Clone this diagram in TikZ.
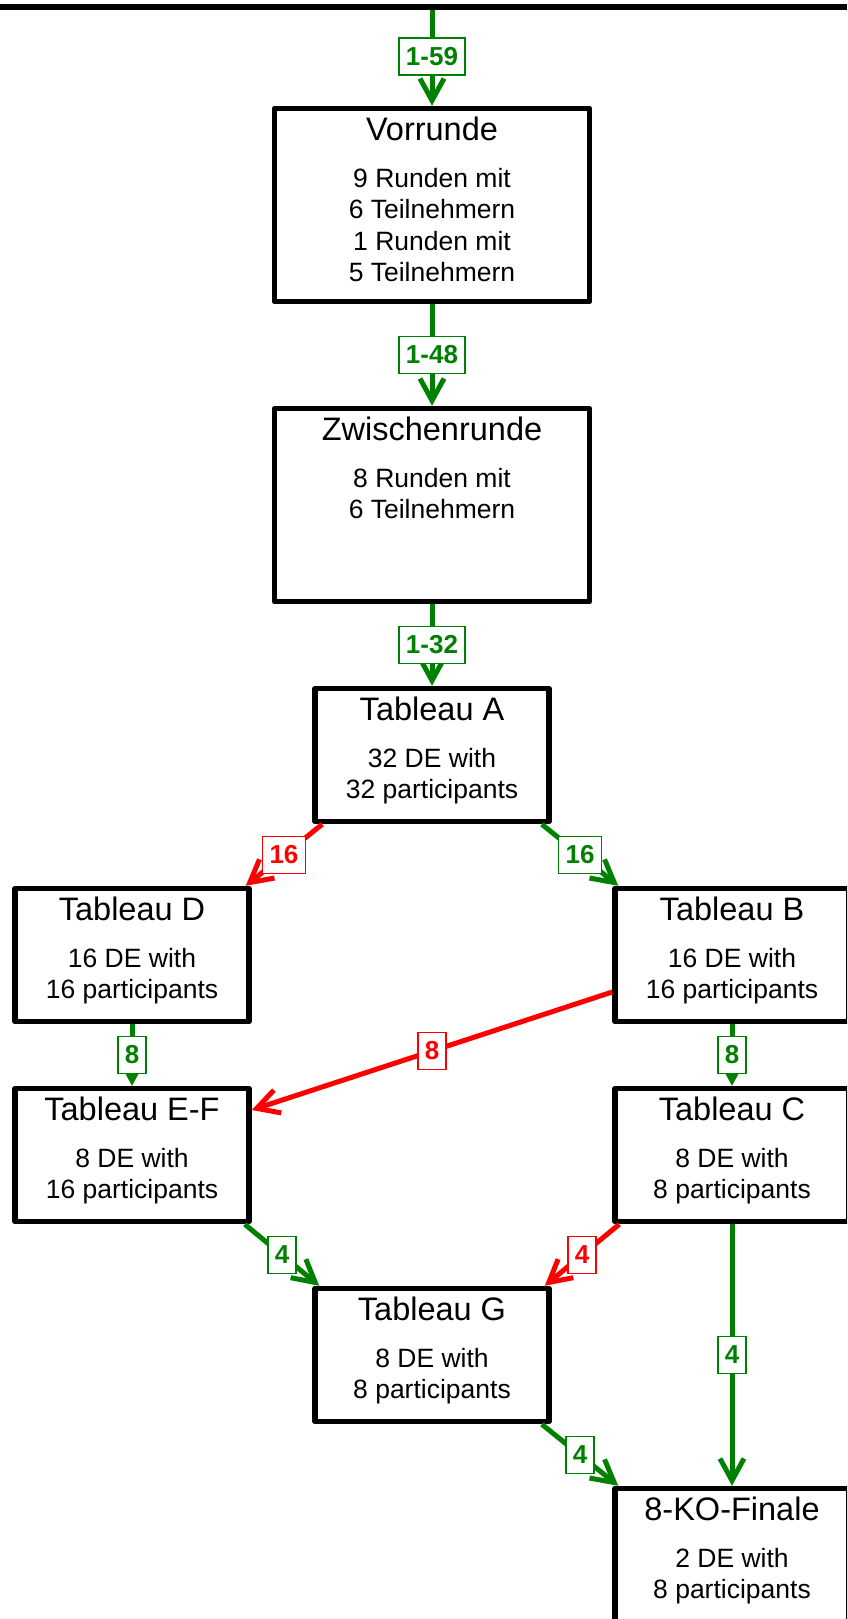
\documentclass[tikz,border=0pt]{standalone}
\usepackage{fontspec}
\setmainfont{Liberation Sans}
\usepackage{tikz}
\usetikzlibrary{arrows.meta}
\definecolor{flowgreen}{HTML}{008000}
\definecolor{flowred}{HTML}{FF0000}
\newcommand{\stagetitle}[1]{{\fontsize{32.5}{36}\selectfont #1}}

\begin{document}
\begin{tikzpicture}[x=1pt,y=-1pt,
  stage/.style={draw,line width=5.5pt,line join=round,inner sep=0pt,minimum width=234pt,minimum height=133pt},
  stagetext/.style={anchor=north,align=center,inner xsep=0pt,inner ysep=10.5pt,font=\fontsize{26.5}{31.5}\selectfont},
  flow/.style={line width=5pt,-{Straight Barb[length=22pt,width=24pt]}},
  cnt/.style={fill=white,draw,line width=1.5pt,inner xsep=7pt,inner ysep=0pt,minimum height=37pt,font=\fontsize{26}{30}\selectfont\bfseries},
  win/.style={flow,flowgreen,nodes={cnt,text=flowgreen}},
  loss/.style={flow,flowred,nodes={cnt,text=flowred}}]
  \clip (0,0) rectangle (847,1619);

  % Rounds
  \node[stage,minimum width=315pt,minimum height=193pt] (V) at (432,205) {};
  \node[stagetext] at (V.north) {\stagetitle{Vorrunde}\\[15.5pt]9 Runden mit\\6 Teilnehmern\\1 Runden mit\\5 Teilnehmern};
  \node[stage,minimum width=315pt,minimum height=193pt] (Z) at (432,505) {};
  \node[stagetext] at (Z.north) {\stagetitle{Zwischenrunde}\\[15.5pt]8 Runden mit\\6 Teilnehmern};

  % Tableaus
  \foreach \nm/\px/\py/\ttl/\la/\lb in {A/432/755/Tableau A/32 DE with/32 participants,
      D/132/955/Tableau D/16 DE with/16 participants, B/732/955/Tableau B/16 DE with/16 participants,
      EF/132/1155/Tableau E-F/8 DE with/16 participants, C/732/1155/Tableau C/8 DE with/8 participants,
      G/432/1355/Tableau G/8 DE with/8 participants, Fin/732/1555/8-KO-Finale/2 DE with/8 participants} {
    \node[stage] (\nm) at (\px,\py) {};
    \node[stagetext] at (\nm.north) {\stagetitle{\ttl}\\[15.5pt]\la\\\lb};
  }

  % Qualified
  \coordinate (feed) at (432,7.5);
  \draw[win] (feed) -- node{1-59} (V.north);
  \draw[win] (V.south) -- node{1-48} (Z.north);
  \draw[win] (Z.south) -- node{1-32} (A.north);
  \draw[win] ([xshift=-10pt]A.south east) -- node{16} ([xshift=6pt]B.north west);
  \draw[win] (D.south) -- node{8} (EF.north);
  \draw[win] (B.south) -- node{8} (C.north);
  \draw[win] ([xshift=-7pt]EF.south east) -- node{4} ([xshift=7pt]G.north west);
  \draw[win] (C.south) -- node{4} (Fin.north);
  \draw[win] ([xshift=-10pt]G.south east) -- node{4} ([xshift=6pt]Fin.north west);

  % Eliminated
  \draw[loss] ([xshift=10pt]A.south west) -- node{16} ([xshift=-6pt]D.north east);
  \draw[loss] ([yshift=-37pt]B.west) -- node{8} ([yshift=45pt]EF.east);
  \draw[loss] ([xshift=7pt]C.south west) -- node{4} ([xshift=-7pt]G.north east);

  % Feed line
  \draw[line width=6pt] (0,7.5) -- (847,7.5);
\end{tikzpicture}
\end{document}
